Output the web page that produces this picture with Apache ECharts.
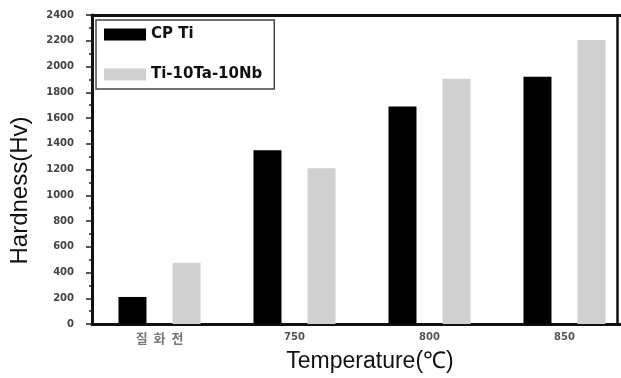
<!DOCTYPE html>
<html>
<head>
<meta charset="utf-8">
<script src="https://cdn.jsdelivr.net/npm/echarts@6/dist/echarts.min.js"></script>
<style>html,body{margin:0;padding:0;background:#fff}#c{width:621px;height:378px}</style>
</head>
<body>
<div id="c"></div>
<script>
const categories = ['질 화 전', '750', '800', '850'];
const cpTi = [210, 1350, 1690, 1920];
const tiTaNb = [475, 1210, 1905, 2205];
const seriesNames = ['CP Ti', 'Ti-10Ta-10Nb'];

const chart = echarts.init(document.getElementById('c'), null, {renderer: 'canvas'});
chart.setOption({
  animation: false,
  backgroundColor: '#fff',
  grid: {left: 92, top: 15, width: 540, bottom: 54, containLabel: false, outerBoundsMode: 'none'},
  legend: {
    orient: 'vertical', left: 96, top: 20,
    padding: [7, 12, 7, 8], itemGap: 25,
    itemWidth: 42, itemHeight: 12, icon: 'rect',
    borderColor: '#444', borderWidth: 1.5, backgroundColor: '#fff',
    textStyle: {fontFamily: 'DejaVu Sans', fontWeight: 'bold', fontSize: 15, color: '#111'},
    data: seriesNames
  },
  xAxis: [{
    type: 'category', data: categories, position: 'bottom',
    axisLine: {onZero: false, lineStyle: {color: '#111', width: 3}},
    axisTick: {show: false},
    axisLabel: {
      margin: 8, color: '#555', fontFamily: 'DejaVu Sans', fontWeight: 'bold', fontSize: 10,
      rich: {k: {fontFamily: 'Noto Sans CJK KR', fontSize: 13, color: '#777'}},
      formatter: function (v, i) { return i === 0 ? '{k|' + v.split(' ').join('  ') + '}' : v; }
    },
    name: 'Temperature(℃)', nameLocation: 'middle', nameGap: 25,
    nameTextStyle: {fontFamily: "'Liberation Sans Narrow', 'Liberation Sans', sans-serif", fontSize: 23, color: '#111', padding: [0, 0, 0, 16]}
  }, {
    type: 'category', data: categories, position: 'top',
    axisLine: {show: true, onZero: false, lineStyle: {color: '#111', width: 3}},
    axisTick: {show: false}, axisLabel: {show: false}
  }],
  yAxis: [{
    type: 'value', min: 0, max: 2400, interval: 200, position: 'left',
    axisLine: {show: true, onZero: false, lineStyle: {color: '#111', width: 3}},
    axisTick: {show: true, length: 6, lineStyle: {color: '#222', width: 1.5}},
    minorTick: {show: true, splitNumber: 2, length: 3, lineStyle: {color: '#222', width: 1.5}},
    splitLine: {show: false},
    axisLabel: {margin: 18, color: '#444', fontFamily: 'DejaVu Sans', fontWeight: 'bold', fontSize: 10,
      formatter: function (v) { return String(v); }},
    name: 'Hardness(Hv)', nameLocation: 'middle', nameGap: 60,
    nameTextStyle: {fontFamily: "'Liberation Sans', sans-serif", fontSize: 24, color: '#111', padding: [0, 42, 0, 0]}
  }, {
    type: 'value', min: 0, max: 2400, interval: 200, position: 'right', offset: -15,
    axisLine: {show: true, onZero: false, lineStyle: {color: '#111', width: 2.5}},
    axisTick: {show: false}, axisLabel: {show: false}, splitLine: {show: false}
  }],
  series: [{
    name: seriesNames[0], type: 'bar', data: cpTi, barWidth: 28, barGap: '93%',
    itemStyle: {color: '#000'}
  }, {
    name: seriesNames[1], type: 'bar', data: tiTaNb, barWidth: 28,
    itemStyle: {color: '#d0d0d0'}
  }]
});
</script>
</body>
</html>
